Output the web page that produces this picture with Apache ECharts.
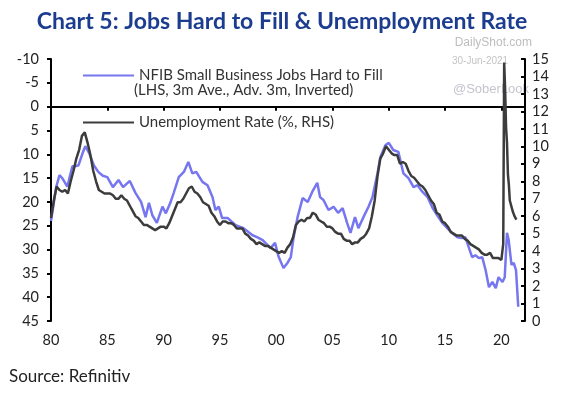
<!DOCTYPE html>
<html>
<head>
<meta charset="utf-8">
<script src="https://cdn.jsdelivr.net/npm/echarts@6/dist/echarts.min.js"></script>
<style>
html,body{margin:0;padding:0;background:#fff;}
#c{width:564px;height:394px;}
</style>
</head>
<body>
<div id="c"></div>
<script>
// Unemployment rate (%), quarterly from 1980 Q1 to 2019 Q4
var urQuarterlyStart = 1980;
var urQuarterly = [
  5.9, 6.9, 7.7, 7.5,  7.4, 7.5, 7.3, 8.0,  8.6, 9.3, 9.8, 10.6,  10.8, 10.2, 9.5, 8.6,
  8.0, 7.5, 7.4, 7.3,  7.3, 7.3, 7.2, 7.0,  7.0, 7.2, 7.0, 6.9,   6.6, 6.3, 6.0, 5.9,
  5.7, 5.5, 5.5, 5.4,  5.3, 5.2, 5.3, 5.4,  5.4, 5.3, 5.6, 6.0,   6.4, 6.8, 6.8, 7.0,
  7.3, 7.6, 7.7, 7.4,  7.3, 7.1, 6.8, 6.7,  6.6, 6.2, 6.0, 5.7,   5.5, 5.7, 5.7, 5.6,
  5.6, 5.5, 5.3, 5.3,  5.3, 5.0, 4.9, 4.7,  4.6, 4.4, 4.5, 4.4,   4.3, 4.3, 4.2, 4.1,
  4.0, 3.9, 4.0, 3.9,  4.2, 4.4, 4.8, 5.5,  5.7, 5.8, 5.7, 5.9,   5.9, 6.2, 6.1, 5.8,
  5.7, 5.6, 5.4, 5.4,  5.3, 5.1, 5.0, 5.0,  4.7, 4.6, 4.6, 4.4,   4.5, 4.5, 4.7, 4.8,
  5.0, 5.3, 6.0, 6.9,  8.3, 9.3, 9.6, 10.0, 9.8, 9.6, 9.5, 9.5,   9.0, 9.1, 9.0, 8.6,
  8.3, 8.2, 8.0, 7.8,  7.7, 7.5, 7.2, 6.9,  6.7, 6.2, 6.1, 5.7,   5.6, 5.4, 5.1, 5.0,
  4.9, 4.9, 4.9, 4.7,  4.6, 4.4, 4.3, 4.2,  4.1, 3.9, 3.8, 3.8,   3.9, 3.6, 3.6, 3.6
];
// Unemployment rate (%), monthly from Jan 2020 to May 2021
var urMonthlyStart = 2020;
var urMonthly = [3.5, 3.5, 4.4, 14.8, 13.3, 11.1, 10.2, 8.4, 7.8, 6.9, 6.7, 6.7, 6.3, 6.2, 6.0, 6.1, 5.8];

// NFIB jobs hard to fill (LHS, inverted)
var nfibYears = [
  1980.0, 1980.2, 1980.45, 1980.75, 1981.0, 1981.45, 1981.6, 1981.9, 1982.2, 1982.45, 1982.8, 1983.05,
  1983.4, 1983.8, 1984.2, 1984.6, 1985.0, 1985.5, 1986.0, 1986.4, 1987.0, 1987.5, 1988.0, 1988.4,
  1988.7, 1989.0, 1989.4, 1989.9, 1990.2, 1990.6, 1990.9, 1991.35, 1991.8, 1992.2, 1992.55, 1992.9,
  1993.45, 1993.9, 1994.35, 1994.6, 1994.9, 1995.2, 1995.7, 1996.4, 1997.1, 1997.9, 1998.3, 1998.8,
  1999.5, 1999.9, 2000.2, 2000.65, 2001.0, 2001.3, 2001.55, 2001.9, 2002.35, 2002.8, 2003.2, 2003.65,
  2003.9, 2004.2, 2004.65, 2005.1, 2005.5, 2005.9, 2006.3, 2006.6, 2007.0, 2007.3, 2007.75, 2008.2,
  2008.55, 2009.0, 2009.25, 2009.7, 2010.0, 2010.4, 2010.85, 2011.3, 2011.75, 2012.2, 2012.55, 2013.0,
  2013.45, 2013.9, 2014.3, 2014.75, 2015.2, 2015.6, 2016.1, 2016.5, 2016.8, 2017.1, 2017.4, 2017.7,
  2018.0, 2018.3, 2018.6, 2018.9, 2019.2, 2019.5, 2019.75, 2020.1, 2020.3, 2020.5, 2020.65, 2020.9,
  2021.1, 2021.3, 2021.5
];
var nfibValues = [
  24, 21, 17, 14.4, 15, 16.8, 17, 12.5, 12.5, 12.3, 9.8, 8.3,
  9.8, 12.3, 13.7, 14.5, 14.8, 16.9, 15.4, 16.9, 15.6, 18.1, 20.0, 23.2,
  20.2, 22.8, 24.4, 21, 22.4, 20.2, 18.1, 14.8, 13.7, 11.6, 14, 13.7,
  15.8, 16.5, 19, 21.7, 21, 23.4, 23.4, 24.9, 25.5, 27, 27.4, 28,
  29.7, 28.6, 31.4, 33.9, 32.8, 31.6, 27.4, 23.2, 19.2, 20, 17.9, 16,
  19, 19.6, 21.7, 21, 22.3, 21.3, 24.4, 26.5, 23.2, 25.5, 23.2, 21,
  19, 14, 10.6, 8.1, 7.6, 9.1, 9.5, 14, 15, 16.9, 16.5, 17.9,
  19, 21.3, 22.8, 24.4, 25.5, 26.5, 27.4, 27.6, 27.4, 29.5, 31.6, 31.2,
  31.8, 31.6, 34.3, 37.9, 36.8, 38.1, 35.8, 36.8, 35.8, 26.5, 28, 33.2,
  32.8, 34.3, 42
];

var nfibName = 'NFIB Small Business Jobs Hard to Fill';
var nfibName2 = '(LHS, 3m Ave., Adv. 3m, Inverted)';
var urName = 'Unemployment Rate (%, RHS)';

var urData = [];
urQuarterly.forEach(function (v, i) { urData.push([urQuarterlyStart + i / 4, v]); });
urMonthly.forEach(function (v, i) { urData.push([urMonthlyStart + i / 12, v]); });
var nfibData = nfibYears.map(function (y, i) { return [y, nfibValues[i]]; });

var FONT = 'Lato';
var chart = echarts.init(document.getElementById('c'));
chart.setOption({
  backgroundColor: '#fff',
  animation: false,
  title: {
    text: 'Chart 5: Jobs Hard to Fill & Unemployment Rate',
    left: 'center', top: 5,
    textStyle: {fontFamily: FONT, fontWeight: 'bold', fontSize: 23, color: '#1b3c8f'}
  },
  legend: {
    orient: 'vertical', left: 77, top: 63,
    itemWidth: 51, itemHeight: 16, itemGap: 32, itemStyle: {opacity: 0},
    textStyle: {fontFamily: FONT, fontSize: 15, color: '#333'},
    data: [nfibName, urName]
  },
  graphic: [
    {type: 'text', left: 134, top: 83, style: {text: nfibName2, font: '15px ' + FONT, fill: '#333'}},
    {type: 'text', right: 32, top: 37, style: {text: 'DailyShot.com', font: '12px Liberation Sans', fill: '#bdbdbd'}},
    {type: 'text', left: 452, top: 56, style: {text: '30-Jun-2021', font: '10px Liberation Sans', fill: '#c4c4c4'}},
    {type: 'text', left: 453, top: 83, style: {text: '@SoberLook', font: '13px Liberation Sans', fill: '#c4c4cc'}},
    {type: 'text', left: 9, top: 368, style: {text: 'Source: Refinitiv', font: '17px ' + FONT, fill: '#222'}}
  ],
  grid: {left: 51, right: 39, top: 59, bottom: 73, containLabel: false},
  xAxis: {
    type: 'value', min: 1980, max: 2022.1, interval: 5,
    splitLine: {show: false},
    axisLine: {lineStyle: {color: '#000', width: 2}},
    axisTick: {length: 4, lineStyle: {color: '#000', width: 2}},
    axisLabel: {
      fontFamily: FONT, fontSize: 14.5, color: '#222', margin: 12, showMaxLabel: false,
      formatter: function (v) { return (Math.round(v) % 5 === 0 && Math.abs(v - Math.round(v)) < 1e-6) ? String(Math.round(v) % 100).padStart(2, '0') : ''; }
    }
  },
  yAxis: [
    {
      type: 'value', inverse: true, min: -10, max: 45, interval: 5, position: 'left',
      splitLine: {show: false},
      axisLine: {show: true, lineStyle: {color: '#000', width: 2}},
      axisTick: {show: true, length: 4, lineStyle: {color: '#000', width: 2}},
      axisLabel: {fontFamily: FONT, fontSize: 14.5, color: '#222', margin: 12}
    },
    {
      type: 'value', min: 0, max: 15, interval: 1, position: 'right',
      splitLine: {show: false},
      axisLine: {show: true, lineStyle: {color: '#000', width: 2}},
      axisTick: {show: true, inside: true, length: 4, lineStyle: {color: '#000', width: 2}},
      axisLabel: {fontFamily: FONT, fontSize: 14.5, color: '#222', margin: 7}
    }
  ],
  series: [
    {
      name: nfibName, type: 'line', yAxisIndex: 0, data: nfibData,
      symbol: 'none', lineStyle: {color: '#7676f0', width: 2.5}, itemStyle: {color: '#7676f0'}
    },
    {
      name: urName, type: 'line', yAxisIndex: 1, data: urData,
      symbol: 'none', lineStyle: {color: '#3c3c3c', width: 2.5}, itemStyle: {color: '#3c3c3c'}
    }
  ]
});
</script>
</body>
</html>
